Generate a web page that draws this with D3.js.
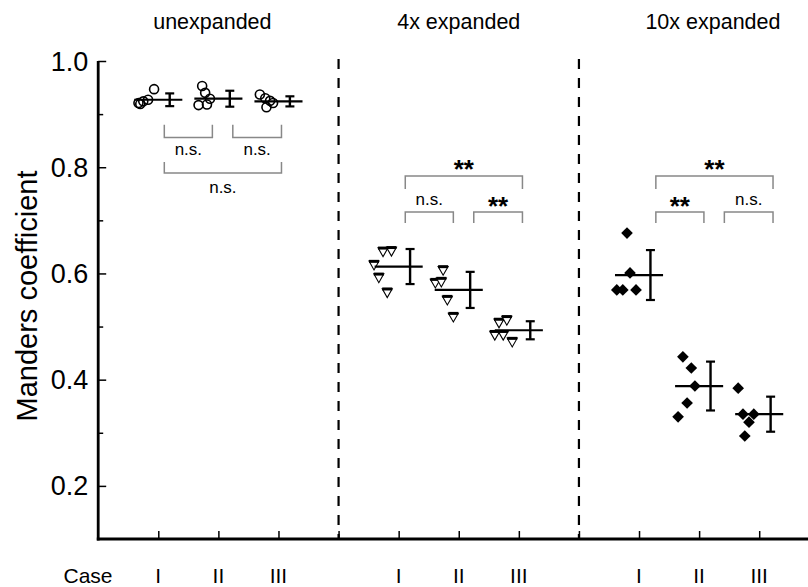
<!DOCTYPE html>
<html>
<head>
<meta charset="utf-8">
<script src="https://cdn.jsdelivr.net/npm/d3@7"></script>
<style>
  body { margin: 0; background: #fff; }
  svg { display: block; font-family: "Liberation Sans", Arial, sans-serif; }
</style>
</head>
<body>
<svg id="chart" width="808" height="587"></svg>
<script>
const conditions = ["unexpanded", "4x expanded", "10x expanded"];
const cases = ["I", "II", "III"];

// Manders coefficient of each sample, [case I, case II, case III]
const unexpanded = [
  [0.921, 0.924, 0.927, 0.947, 0.919],
  [0.953, 0.940, 0.929, 0.917, 0.918],
  [0.937, 0.930, 0.925, 0.913, 0.921]
];
const expanded4x = [
  [0.641, 0.642, 0.616, 0.592, 0.564],
  [0.606, 0.582, 0.584, 0.550, 0.518],
  [0.507, 0.512, 0.484, 0.484, 0.471]
];
const expanded10x = [
  [0.676, 0.601, 0.569, 0.569, 0.569],
  [0.443, 0.422, 0.388, 0.356, 0.330],
  [0.384, 0.335, 0.335, 0.320, 0.294]
];
// horizontal scatter of the samples, in case units
const spreadUnexpanded = [
  [-0.33, -0.25, -0.17, -0.07, -0.30],
  [-0.27, -0.22, -0.14, -0.33, -0.19],
  [-0.31, -0.22, -0.14, -0.20, -0.09]
];
const spread4x = [
  [-0.26, -0.12, -0.41, -0.33, -0.19],
  [-0.26, -0.39, -0.29, -0.19, -0.09],
  [-0.33, -0.20, -0.40, -0.26, -0.11]
];
const spread10x = [
  [-0.20, -0.15, -0.37, -0.27, -0.05],
  [-0.27, -0.13, -0.07, -0.20, -0.35],
  [-0.35, -0.27, -0.09, -0.17, -0.24]
];

const means = [[0.927, 0.929, 0.924], [0.613, 0.569, 0.493], [0.597, 0.388, 0.335]];
const sds = [[0.012, 0.015, 0.0095], [0.033, 0.034, 0.017], [0.047, 0.046, 0.033]];

// significance brackets: condition, case a, case b
const tests = [
  { cond: 0, a: 0, b: 1, label: "n.s." },
  { cond: 0, a: 1, b: 2, label: "n.s." },
  { cond: 0, a: 0, b: 2, label: "n.s." },
  { cond: 1, a: 0, b: 2, label: "**" },
  { cond: 1, a: 0, b: 1, label: "n.s." },
  { cond: 1, a: 1, b: 2, label: "**" },
  { cond: 2, a: 0, b: 2, label: "**" },
  { cond: 2, a: 0, b: 1, label: "**" },
  { cond: 2, a: 1, b: 2, label: "n.s." }
];

const yTicks = [0.2, 0.4, 0.6, 0.8, 1.0];
const yMinor = [0.3, 0.5, 0.7, 0.9];

const samples = [unexpanded, expanded4x, expanded10x];
const spreads = [spreadUnexpanded, spread4x, spread10x];

const svg = d3.select("#chart");

const x = d3.scaleLinear().domain([0, 12]).range([98.2, 819.3]);
const y = d3.scaleLinear().domain([0.1, 1.0]).range([539, 61]);
const pos = (c, k) => c * 4 + k + 1;

// separators
svg.append("g")
  .selectAll("line")
  .data([4, 8])
  .join("line")
  .attr("x1", d => x(d)).attr("x2", d => x(d))
  .attr("y1", 59).attr("y2", 539)
  .attr("stroke", "#000").attr("stroke-width", 2.2)
  .attr("stroke-dasharray", "10,9");

// y axis
const yAxis = svg.append("g").attr("transform", `translate(${x(0)},0)`);
yAxis.append("g")
  .call(d3.axisRight(y).tickValues(yTicks).tickSize(8).tickFormat(""))
  .call(g => g.select(".domain").remove())
  .call(g => g.selectAll(".tick line").attr("stroke-width", 1.5));
yAxis.append("g")
  .call(d3.axisRight(y).tickValues(yMinor).tickSize(5).tickFormat(""))
  .call(g => g.select(".domain").remove())
  .call(g => g.selectAll(".tick line").attr("stroke-width", 1.5));
yAxis.append("line")
  .attr("y1", y(1.0)).attr("y2", y(0.1) + 1.5)
  .attr("stroke", "#000").attr("stroke-width", 2.8);
yAxis.append("g").selectAll("text")
  .data(yTicks)
  .join("text")
  .attr("x", -10).attr("y", d => y(d) + 9.5)
  .attr("text-anchor", "end")
  .attr("fill", "#000")
  .style("font-size", "27px")
  .text(d3.format(".1f"));

svg.append("text")
  .attr("transform", "translate(37,296) rotate(-90)")
  .attr("text-anchor", "middle")
  .style("font-size", "29px")
  .text("Manders coefficient");

// x axis
const caseTicks = d3.range(1, 12);
svg.append("g")
  .attr("transform", `translate(0,${y(0.1)})`)
  .call(d3.axisTop(x).tickValues(caseTicks).tickSize(8).tickFormat(""))
  .call(g => g.select(".domain").remove())
  .call(g => g.selectAll(".tick line").attr("stroke-width", 1.5));
svg.append("line")
  .attr("x1", x(0) - 1.4).attr("x2", 808)
  .attr("y1", y(0.1)).attr("y2", y(0.1))
  .attr("stroke", "#000").attr("stroke-width", 3);

svg.append("text")
  .attr("x", 88).attr("y", 583)
  .attr("text-anchor", "middle")
  .style("font-size", "21px")
  .text("Case");

conditions.forEach((name, c) => {
  svg.append("g").selectAll("text")
    .data(cases)
    .join("text")
    .attr("x", (d, k) => x(pos(c, k)))
    .attr("y", 583)
    .attr("text-anchor", "middle")
    .style("font-size", "21px")
    .text(d => d);
});

// condition titles
const titleAt = [1.9, 6, 10.23];
svg.append("g").selectAll("text")
  .data(conditions)
  .join("text")
  .attr("x", (d, i) => x(titleAt[i]))
  .attr("y", 29)
  .attr("text-anchor", "middle")
  .style("font-size", "21.5px")
  .text(d => d);

// markers
const triangle = "M-5,-3.8L5,-3.8L0,5Z";
const diamond = d3.symbol(d3.symbolSquare, 68)();

conditions.forEach((name, c) => {
  const g = svg.append("g");
  cases.forEach((cs, k) => {
    const pts = samples[c][k].map((v, i) => ({ v, dx: spreads[c][k][i] }));
    const marks = g.append("g").selectAll("g")
      .data(pts)
      .join("g")
      .attr("transform", d => `translate(${x(pos(c, k) + d.dx)},${y(d.v)})`);
    if (c === 0) {
      marks.append("circle")
        .attr("r", 4.5)
        .attr("fill", "none")
        .attr("stroke", "#000").attr("stroke-width", 1.6);
    } else if (c === 1) {
      marks.append("path")
        .attr("d", triangle)
        .attr("fill", "#fff")
        .attr("stroke", "#000").attr("stroke-width", 1.1);
      marks.append("line")
        .attr("x1", -5).attr("x2", 5)
        .attr("y1", -3.6).attr("y2", -3.6)
        .attr("stroke", "#000").attr("stroke-width", 3);
    } else {
      marks.append("path")
        .attr("d", diamond)
        .attr("transform", "rotate(45)")
        .attr("fill", "#000");
    }

    // mean and SD
    const m = means[c][k], s = sds[c][k];
    const xc = pos(c, k);
    g.append("line")
      .attr("x1", x(xc - 0.4)).attr("x2", x(xc + 0.4))
      .attr("y1", y(m)).attr("y2", y(m))
      .attr("stroke", "#000").attr("stroke-width", 2.2);
    const xe = x(xc + 0.19);
    g.append("line")
      .attr("x1", xe).attr("x2", xe)
      .attr("y1", y(m + s)).attr("y2", y(m - s))
      .attr("stroke", "#000").attr("stroke-width", 2.4);
    [m + s, m - s].forEach(v => {
      g.append("line")
        .attr("x1", xe - 4.5).attr("x2", xe + 4.5)
        .attr("y1", y(v)).attr("y2", y(v))
        .attr("stroke", "#000").attr("stroke-width", 2.2);
    });
  });
});

// significance brackets
const shift = [-0.01, 0, 0.17];
const br = svg.append("g");
tests.forEach(t => {
  const outer = t.b - t.a === 2;
  const x1 = x(pos(t.cond, t.a) + (t.a === 0 ? 0.11 : 0.25) + shift[t.cond]);
  const x2 = x(pos(t.cond, t.b) + (t.b === 1 ? -0.09 : 0.06) + shift[t.cond]);
  let h, leg, lc;
  if (t.cond === 0) {
    h = y(outer ? 0.789 : 0.856);
    leg = h - (outer ? 11 : 12.7);
    lc = h + (outer ? 15 : 13.3);
  } else {
    h = y(outer ? 0.7835 : 0.7158);
    leg = h + (outer ? 13 : 11);
    lc = h - (outer ? 12.5 : 11);
  }
  br.append("path")
    .attr("d", `M${x1},${leg}L${x1},${h}L${x2},${h}L${x2},${leg}`)
    .attr("fill", "none")
    .attr("stroke", "#888").attr("stroke-width", 1.5);
  const star = t.label === "**";
  br.append("text")
    .attr("x", (x1 + x2) / 2)
    .attr("y", star ? lc + 14.5 : lc + 4.5)
    .attr("text-anchor", "middle")
    .style("font-size", star ? "26px" : "17px")
    .style("font-weight", star ? "bold" : "normal")
    .text(t.label);
});
</script>
</body>
</html>
